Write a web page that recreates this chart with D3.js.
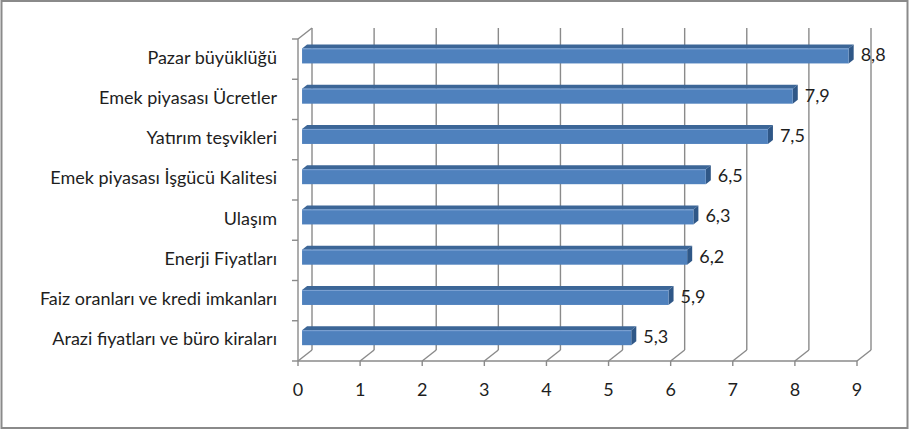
<!DOCTYPE html>
<html>
<head>
<meta charset="utf-8">
<script src="https://cdn.jsdelivr.net/npm/d3@7"></script>
<style>
  html, body { margin: 0; padding: 0; background: #fff; }
  svg { display: block; }
  text { font-family: Lato, "Open Sans", sans-serif; fill: #1e1e1e; }
</style>
</head>
<body>
<svg id="chart" width="910" height="430"></svg>
<script>
// Categories, top to bottom
const categories = [
  "Pazar büyüklüğü",
  "Emek piyasası Ücretler",
  "Yatırım teşvikleri",
  "Emek piyasası İşgücü Kalitesi",
  "Ulaşım",
  "Enerji Fiyatları",
  "Faiz oranları ve kredi imkanları",
  "Arazi fiyatları ve büro kiraları"
];
const values = [8.8, 7.9, 7.5, 6.5, 6.3, 6.2, 5.9, 5.3];
const valueLabels = ["8,8", "7,9", "7,5", "6,5", "6,3", "6,2", "5,9", "5,3"];
const tickValues = [0, 1, 2, 3, 4, 5, 6, 7, 8, 9];

const W = 910, H = 430;
const FONT = 18;
const svg = d3.select("#chart");

// Front plane of the 3D box
const plotLeft = 298, plotRight = 857, plotTop = 39, plotBottom = 361;
// Oblique depth vector (front → back wall)
const depth = { dx: 14, dy: -11 };
// Bars sit part-way into the depth
const barFront = 0.29, barBack = 0.65;

const x = d3.scaleLinear().domain([0, 9]).range([plotLeft, plotRight]);
const y = d3.scaleBand().domain(categories).range([plotTop, plotBottom]).padding(0);

const gridColor = "#8a8a8a";

// Outer frame
svg.append("rect")
  .attr("x", 1.5).attr("y", 1).attr("width", W - 4).attr("height", H - 3)
  .attr("fill", "none").attr("stroke", "#8a8a8a").attr("stroke-width", 2);

const grid = svg.append("g").attr("stroke", gridColor).attr("stroke-width", 1.4).attr("fill", "none");

// Back wall verticals and floor diagonals
tickValues.forEach(v => {
  const fx = x(v);
  const bx = fx + depth.dx;
  grid.append("line")
    .attr("x1", bx).attr("x2", bx)
    .attr("y1", plotTop + depth.dy).attr("y2", plotBottom + depth.dy);
  grid.append("line")
    .attr("x1", fx).attr("y1", plotBottom)
    .attr("x2", bx).attr("y2", plotBottom + depth.dy);
  // tick mark under the front edge
  grid.append("line")
    .attr("x1", fx).attr("x2", fx)
    .attr("y1", plotBottom).attr("y2", plotBottom + 5);
});

// Front floor edge
grid.append("line").attr("x1", plotLeft).attr("x2", plotRight).attr("y1", plotBottom).attr("y2", plotBottom);
// Category axis (front left edge) and top diagonal
grid.append("line").attr("x1", plotLeft).attr("x2", plotLeft).attr("y1", plotTop).attr("y2", plotBottom);
grid.append("line")
  .attr("x1", plotLeft).attr("y1", plotTop)
  .attr("x2", plotLeft + depth.dx).attr("y2", plotTop + depth.dy);

// Category ticks on band edges
const edges = categories.map(c => y(c)).concat([plotBottom]);
edges.forEach(e => {
  grid.append("line").attr("x1", plotLeft - 6).attr("x2", plotLeft).attr("y1", e).attr("y2", e);
});

// Bars: front, top and right faces of each 3D block
const barH = y.bandwidth() * 0.373;
const fdx = depth.dx * barFront, fdy = depth.dy * barFront;
const bdx = depth.dx * barBack, bdy = depth.dy * barBack;

const bars = svg.append("g").selectAll("g.bar")
  .data(categories.map((c, i) => ({ c, v: values[i], label: valueLabels[i] })))
  .join("g").attr("class", "bar");

bars.each(function(d) {
  const g = d3.select(this);
  const x0 = x(0) + fdx, x1 = x(d.v) + fdx;
  const yc = y(d.c) + y.bandwidth() / 2 + fdy;
  const y0 = yc - barH / 2, y1 = yc + barH / 2;
  const ox = bdx - fdx, oy = bdy - fdy;

  // top face
  g.append("path")
    .attr("d", `M${x0},${y0} L${x0 + ox},${y0 + oy} L${x1 + ox},${y0 + oy} L${x1},${y0} Z`)
    .attr("fill", "#3c6697");
  // right face
  g.append("path")
    .attr("d", `M${x1},${y0} L${x1 + ox},${y0 + oy} L${x1 + ox},${y1 + oy} L${x1},${y1} Z`)
    .attr("fill", "#2f5787");
  // front face
  g.append("rect")
    .attr("x", x0).attr("y", y0).attr("width", x1 - x0).attr("height", barH)
    .attr("fill", "#4f81bd");
  // soft highlight along the front top edge
  g.append("line")
    .attr("x1", x0).attr("x2", x1).attr("y1", y0 + 0.5).attr("y2", y0 + 0.5)
    .attr("stroke", "#7ea3d3").attr("stroke-width", 1);

  // value label
  g.append("text")
    .attr("x", x1 + ox + 7).attr("y", yc + 1)
    .attr("dominant-baseline", "middle")
    .attr("font-size", FONT)
    .text(d.label);
});

// Category labels
svg.append("g").selectAll("text")
  .data(categories)
  .join("text")
  .attr("x", 277)
  .attr("y", c => y(c) + y.bandwidth() / 2)
  .attr("text-anchor", "end")
  .attr("dominant-baseline", "middle")
  .attr("font-size", FONT)
  .text(c => c);

// Value axis tick labels
svg.append("g").selectAll("text")
  .data(tickValues)
  .join("text")
  .attr("x", v => x(v))
  .attr("y", 391)
  .attr("text-anchor", "middle")
  .attr("dominant-baseline", "middle")
  .attr("font-size", FONT)
  .text(v => v);
</script>
</body>
</html>
